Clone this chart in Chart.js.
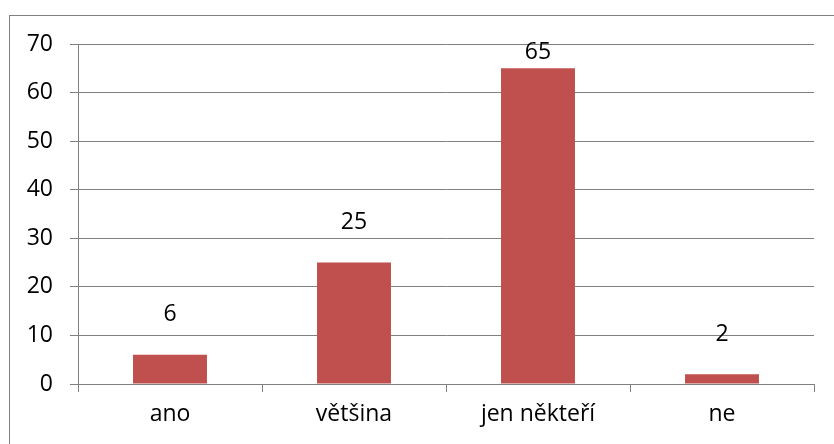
<!DOCTYPE html>
<html>
<head>
<meta charset="utf-8">
<script src="https://cdn.jsdelivr.net/npm/chart.js@4/dist/chart.umd.min.js"></script>
<style>
  html, body { margin: 0; padding: 0; background: #ffffff; }
  #wrap { width: 834px; height: 444px; position: relative; }
</style>
</head>
<body>
<div id="wrap"><canvas id="chart"></canvas></div>
<script>
var categories = ['ano', 'většina', 'jen někteří', 'ne'];
var values = [6, 25, 65, 2];
var yTicks = [0, 10, 20, 30, 40, 50, 60, 70];

var gray = '#808080';
var fontSpec = { family: 'Open Sans', size: 23 };

// frame around the whole chart (right and bottom edges fall outside the picture)
var framePlugin = {
	id: 'frame',
	beforeDraw: function(chart) {
		var ctx = chart.ctx;
		ctx.save();
		ctx.strokeStyle = gray;
		ctx.lineWidth = 1;
		ctx.strokeRect(9.5, 15.5, chart.width + 20, chart.height + 20);
		ctx.restore();
	}
};

// value labels above the bars
var labelPlugin = {
	id: 'valueLabels',
	afterDatasetsDraw: function(chart) {
		var ctx = chart.ctx;
		var meta = chart.getDatasetMeta(0);
		ctx.save();
		ctx.font = fontSpec.size + 'px "' + fontSpec.family + '"';
		ctx.fillStyle = '#000000';
		ctx.textAlign = 'center';
		ctx.textBaseline = 'middle';
		meta.data.forEach(function(bar, i) {
			var y = bar.y - 40;
			if (y < chart.chartArea.top + 8) y = chart.chartArea.top + 8;
			ctx.fillText(String(values[i]), bar.x, y);
		});
		ctx.restore();
	}
};

var ctx = document.getElementById('chart').getContext('2d');
var myChart = new Chart(ctx, {
	type: 'bar',
	data: {
		labels: categories,
		datasets: [{
			data: values,
			backgroundColor: '#C0504D',
			borderWidth: 0,
			categoryPercentage: 1,
			barPercentage: 0.402
		}]
	},
	options: {
		responsive: true,
		maintainAspectRatio: false,
		animation: false,
		layout: { padding: { top: 44, right: 20, left: 0, bottom: 0 } },
		plugins: {
			legend: { display: false },
			tooltip: { enabled: false }
		},
		scales: {
			x: {
				grid: {
					offset: true,
					drawOnChartArea: false,
					drawTicks: true,
					tickLength: 8,
					color: gray
				},
				border: { display: true, color: gray },
				ticks: { color: '#000000', font: fontSpec, padding: 9, maxRotation: 0 },
				afterFit: function(scale) { scale.height = 60; }
			},
			y: {
				min: 0,
				max: 70,
				afterBuildTicks: function(scale) {
					scale.ticks = yTicks.map(function(v) { return { value: v }; });
				},
				grid: {
					color: gray,
					drawTicks: true,
					tickLength: 8
				},
				border: { display: true, color: gray },
				ticks: { color: '#000000', font: fontSpec, padding: 17 },
				afterFit: function(scale) { scale.width = 78; }
			}
		}
	},
	plugins: [framePlugin, labelPlugin]
});
</script>
</body>
</html>
